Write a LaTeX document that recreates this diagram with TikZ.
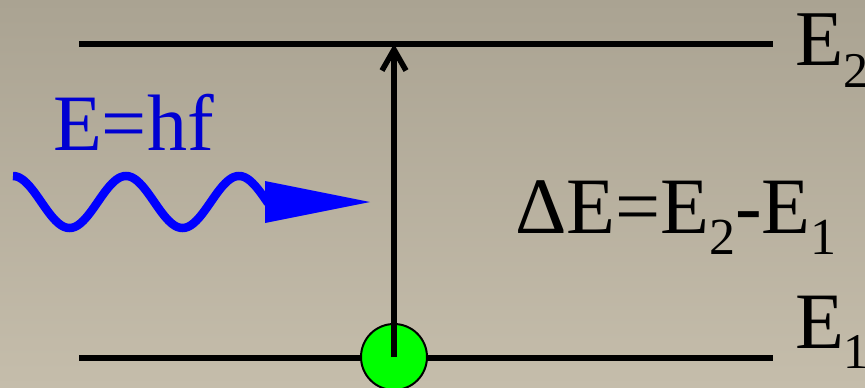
\documentclass[tikz,border=0pt]{standalone}
\usepackage{fontspec}
\setmainfont{Liberation Serif}
\usepackage{graphicx}
\usetikzlibrary{arrows.meta}
\definecolor{bgtop}{RGB}{170,163,146}
\definecolor{bgbot}{RGB}{197,189,171}
\definecolor{txtblue}{RGB}{0,0,210}
\definecolor{wavblue}{RGB}{0,0,255}
\definecolor{dotgreen}{RGB}{0,255,0}
\tikzset{
  level/.style={line width=5.5pt, draw=black},
  lbl/.style={inner sep=0pt, outer sep=0pt, anchor=base west, text=black},
  electron/.style={circle, draw=black, line width=2pt, fill=dotgreen, minimum size=66pt, inner sep=0pt},
  jump/.style={line width=5.5pt, -{Straight Barb[length=21pt,width=24pt]}},
  wave/.style={draw=wavblue, line width=8.5pt},
}
\begin{document}
\begin{tikzpicture}[x=1pt,y=-1pt]
\shade[top color=bgtop,bottom color=bgbot] (0,0) rectangle (865,388);
\useasboundingbox (0,0) rectangle (865,388);
% energy levels
\coordinate (L2a) at (79,44);
\coordinate (L2b) at (773,44);
\coordinate (L1a) at (79,358);
\coordinate (L1b) at (773,358);
\draw[level] (L2a) -- (L2b);
\draw[level] (L1a) -- (L1b);
% electron and transition
\node[electron] (el) at (394,357) {};
\coordinate (top) at (394,44);
\draw[jump] (el.center) -- (top);
% photon wave
\draw[wave] plot[domain=13:268, samples=150, smooth] (\x, {202-26*cos((\x-13)*3.18584)});
\coordinate (hb1) at (265,181);
\coordinate (htip) at (370,202);
\coordinate (hb2) at (265,223);
\fill[wavblue] (hb1) -- (htip) -- (hb2) -- cycle;
% labels
\node[lbl, text=txtblue, font=\fontsize{80}{96}\selectfont] (photon) at (53,150) {E=hf};
\node[lbl, font=\fontsize{79}{95}\selectfont] (E2) at (795,65) {E\raisebox{-22pt}{\fontsize{50}{60}\selectfont 2}};
\node[lbl, font=\fontsize{80}{96}\selectfont] (E1) at (795,348) {E\raisebox{-20pt}{\fontsize{50}{60}\selectfont 1}};
\node[lbl, font=\fontsize{80}{96}\selectfont] (dE) at (515,233) {ΔE=E\raisebox{-21pt}{\fontsize{52}{62}\selectfont 2}-E\raisebox{-21pt}{\fontsize{52}{62}\selectfont 1}};
\end{tikzpicture}
\end{document}
